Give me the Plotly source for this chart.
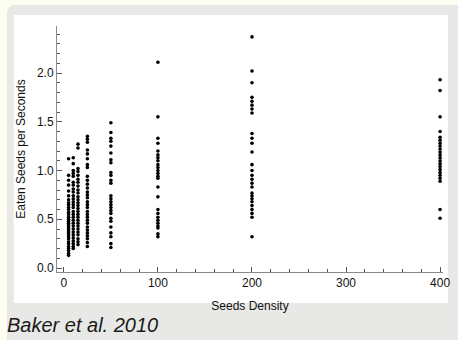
import plotly.graph_objects as go

# Seeds density categories and eaten-seeds-per-second observations
density_levels = [5, 10, 15, 25, 50, 100, 200, 400]

rate_d5 = [1.12, 0.95, 0.90, 0.85, 0.79, 0.74, 0.70, 0.67, 0.65, 0.62, 0.60, 0.57, 0.55,
           0.52, 0.50, 0.48, 0.46, 0.44, 0.42, 0.40, 0.38, 0.36, 0.34, 0.32, 0.30, 0.27,
           0.25, 0.22, 0.20, 0.18, 0.15, 0.13]
rate_d10 = [1.13, 1.07, 1.00, 0.97, 0.94, 0.88, 0.85, 0.81, 0.78, 0.74, 0.71, 0.68, 0.65,
            0.62, 0.58, 0.55, 0.52, 0.49, 0.46, 0.43, 0.40, 0.37, 0.34, 0.31, 0.28, 0.25,
            0.22, 0.20]
rate_d15 = [1.27, 1.23, 1.02, 0.99, 0.95, 0.91, 0.88, 0.84, 0.80, 0.77, 0.73, 0.70, 0.67,
            0.64, 0.61, 0.58, 0.55, 0.52, 0.49, 0.46, 0.43, 0.40, 0.37, 0.34, 0.30, 0.27,
            0.24]
rate_d25 = [1.35, 1.32, 1.29, 1.21, 1.17, 1.12, 1.06, 1.03, 0.94, 0.90, 0.86, 0.82, 0.78,
            0.75, 0.72, 0.68, 0.65, 0.62, 0.58, 0.55, 0.52, 0.49, 0.46, 0.42, 0.39, 0.36,
            0.33, 0.30, 0.26, 0.22]
rate_d50 = [1.49, 1.39, 1.33, 1.30, 1.25, 1.18, 1.11, 1.08, 0.98, 0.95, 0.90, 0.87, 0.74,
            0.71, 0.68, 0.65, 0.62, 0.59, 0.56, 0.51, 0.48, 0.42, 0.36, 0.32, 0.25, 0.21]
rate_d100 = [2.11, 1.55, 1.33, 1.28, 1.20, 1.16, 1.13, 1.10, 1.06, 1.03, 1.00, 0.97, 0.94,
             0.92, 0.83, 0.73, 0.60, 0.56, 0.52, 0.49, 0.46, 0.43, 0.41, 0.35, 0.32]
rate_d200 = [2.37, 2.02, 1.90, 1.75, 1.71, 1.67, 1.63, 1.59, 1.38, 1.33, 1.28, 1.19, 1.06,
             1.00, 0.95, 0.91, 0.87, 0.83, 0.77, 0.74, 0.71, 0.68, 0.64, 0.60, 0.56, 0.52,
             0.32]
rate_d400 = [1.93, 1.82, 1.55, 1.40, 1.34, 1.31, 1.28, 1.25, 1.22, 1.19, 1.16, 1.13, 1.10,
             1.07, 1.04, 1.01, 0.98, 0.95, 0.92, 0.89, 0.60, 0.51]

rates = [rate_d5, rate_d10, rate_d15, rate_d25, rate_d50, rate_d100, rate_d200, rate_d400]

x_title = "Seeds Density"
y_title = "Eaten Seeds per Seconds"
caption = "Baker et al. 2010"

xs, ys = [], []
for d, vals in zip(density_levels, rates):
    xs += [d] * len(vals)
    ys += vals

W, H = 458, 340
ml, mr, mt, mb = 57, 8, 26, 68
pw, ph = W - ml - mr, H - mt - mb


def px_x(p):
    return (p - ml) / pw


def px_y(p):
    return 1 - (p - mt) / ph


FONT = "Liberation Sans, Arial, sans-serif"

fig = go.Figure()
fig.add_trace(go.Scatter(
    x=xs, y=ys, mode="markers",
    marker=dict(color="black", size=3.6, line=dict(width=0)),
    hoverinfo="x+y", showlegend=False,
))

axis_common = dict(
    showgrid=False, zeroline=False, showline=True, linecolor="#8a8a8a", linewidth=1,
    ticks="inside", ticklen=5, tickcolor="#555555", tickwidth=1,
    tickfont=dict(family=FONT, size=12, color="#111111"),
    mirror=False,
)

fig.update_xaxes(
    range=[-7.3, 403.1], tickvals=[0, 100, 200, 300, 400],
    minor=dict(ticks="inside", dtick=20, tick0=0, ticklen=3, tickcolor="#555555"),
    title=dict(text=x_title, standoff=12, font=dict(family=FONT, size=12, color="#111111")),
    **axis_common,
)
fig.update_yaxes(
    range=[-0.041, 2.482], tickvals=[0, 0.5, 1.0, 1.5, 2.0], tickformat=".1f",
    minor=dict(ticks="inside", dtick=0.1, tick0=0, ticklen=3, tickcolor="#555555"),
    title=dict(text=y_title, standoff=8, font=dict(family=FONT, size=12, color="#111111")),
    **axis_common,
)

# background panels (gray rounded frame and white inner panel)
gx0, gy0, gx1, gy1, r = 6, 5, 470, 350, 9
path = (f"M {px_x(gx0 + r)} {px_y(gy0)} L {px_x(gx1)} {px_y(gy0)} L {px_x(gx1)} {px_y(gy1)} "
        f"L {px_x(gx0)} {px_y(gy1)} L {px_x(gx0)} {px_y(gy0 + r)} "
        f"Q {px_x(gx0)} {px_y(gy0)} {px_x(gx0 + r)} {px_y(gy0)} Z")
fig.add_shape(type="path", path=path, xref="paper", yref="paper",
              fillcolor="#e8e8e6", line=dict(width=0), layer="below")
fig.add_shape(type="rect", xref="paper", yref="paper",
              x0=px_x(13), x1=px_x(455), y0=px_y(15), y1=px_y(303),
              fillcolor="white", line=dict(width=0), layer="below")

fig.add_annotation(
    text="<i>" + caption + "</i>", xref="paper", yref="paper", x=px_x(4), y=px_y(325),
    xanchor="left", yanchor="middle", showarrow=False,
    font=dict(family=FONT, size=20, color="#1a1a1a"),
)

fig.update_layout(
    width=W, height=H,
    margin=dict(l=ml, r=mr, t=mt, b=mb, pad=0),
    paper_bgcolor="#fdfdf1", plot_bgcolor="rgba(0,0,0,0)",
)

fig.write_html(
    "out.html",
    config={"displayModeBar": False},
    post_script="document.body.style.margin='0';document.body.style.padding='0';"
                "document.body.style.overflow='hidden';",
)
